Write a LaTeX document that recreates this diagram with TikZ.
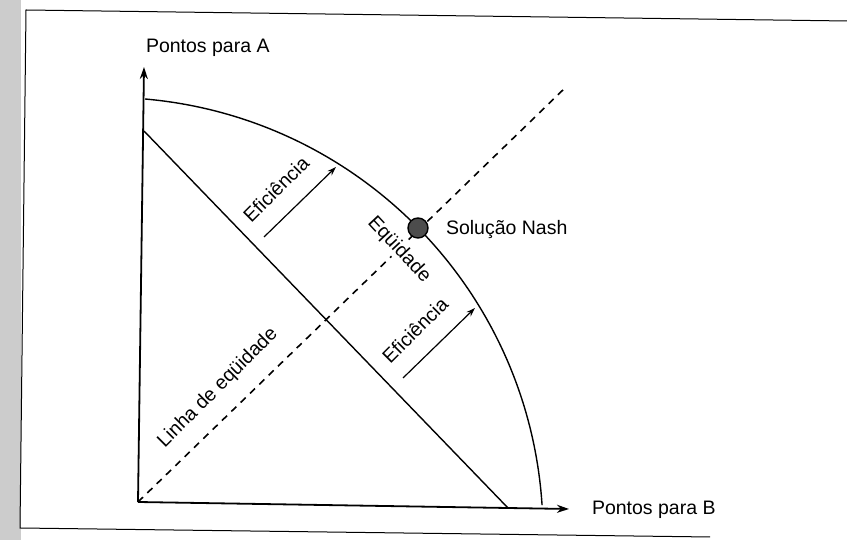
\documentclass[tikz,border=0pt]{standalone}
\usepackage{fontspec}
\setmainfont{Liberation Sans}
\usetikzlibrary{arrows.meta}
\begin{document}
\begin{tikzpicture}[x=1pt,y=1pt,line width=1.4pt,
  font=\fontsize{19.5}{23}\selectfont,
  axis/.style={line width=1.8pt,-{Stealth[length=12pt,width=8pt]}},
  push/.style={line width=1.2pt,-{Stealth[length=9pt,width=6pt]}},
  equity/.style={line width=1.6pt,dash pattern=on 7pt off 6pt}]
\useasboundingbox (0,0) rectangle (847,540);
\fill[black!20] (0,0) rectangle (21,540);
\draw[line width=1pt] (847,519) -- (26,530) -- (20,12) -- (710,3);
\coordinate (O) at (138,38);
\coordinate (Ytop) at (144,473);
\coordinate (Xend) at (569,31);
\coordinate (F0) at (145,441);
\coordinate (L0) at (144,409);
\coordinate (L1) at (508,32);
\coordinate (E1) at (566,453);
\draw[axis] (O) -- (Ytop);
\draw[axis] (O) -- (Xend);
\draw (L0) -- (L1);
\draw[equity] (O) -- (E1);
\node[rotate=-47,fill=white,inner sep=0.5pt] (eq) at (399,290) {Eqüidade};
\draw (F0) arc[start angle=85,end angle=3.7,radius=436];
\node[circle,draw,fill=black!70,minimum size=20pt,inner sep=0pt] (nash) at (418,312) {};
\foreach \i/\x/\y in {1/264/303,2/403/162} {
  \coordinate (a\i) at (\x,\y);
  \coordinate (b\i) at (\x+72,\y+70);
  \draw[push] (a\i) -- (b\i);
  \node[rotate=45] (ef\i) at (\x+12,\y+48) {Eficiência};
}
\node[anchor=base west] (A) at (142,487) {Pontos para A};
\node[anchor=base west] (B) at (588,25) {Pontos para B};
\node[anchor=base west] (N) at (442,305) {Solução Nash};
\node[rotate=45] (linha) at (218,152) {Linha de eqüidade};
\end{tikzpicture}
\end{document}
